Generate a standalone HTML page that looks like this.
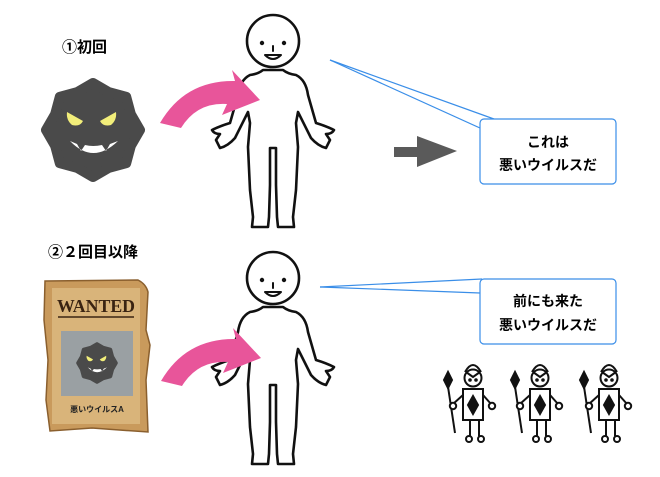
<!DOCTYPE html>
<html><head><meta charset="utf-8"><style>
html,body{margin:0;padding:0;background:#fff;}
svg{display:block}
text{font-family:"Liberation Sans","Noto Sans CJK JP",sans-serif;font-weight:bold}
</style></head><body>
<svg width="660" height="477" viewBox="0 0 660 477" xmlns="http://www.w3.org/2000/svg">
<defs>
<g id="person" fill="#fff" stroke="#111" stroke-width="2.6" stroke-linejoin="round" stroke-linecap="round">
  <path d="M273,70 L263,70 Q258,74 250,75 Q240,80 238,95 L230,123 Q220,126 212,130 Q214,134 220,134 L216,140 L220,148 Q228,146 235,138 L248,112 L250,123 L248,147 L250,190 L253,217 L252,227 L268,227 L269,217 L270,185 L270,148 L276,148 L276,185 L277,217 L278,227 L294,227 L293,217 L296,190 L298,147 L296,123 L298,112 L311,138 Q318,146 326,148 L330,140 L326,134 Q332,134 334,130 Q326,126 316,123 L308,95 Q306,80 296,75 Q288,74 283,70 Z"/>
  <circle cx="273" cy="41" r="26"/>
  <circle cx="262" cy="43" r="2.2" fill="#111" stroke="none"/>
  <circle cx="284" cy="43" r="2.2" fill="#111" stroke="none"/>
  <line x1="273" y1="46" x2="273" y2="51" stroke-width="2"/>
  <path d="M265,55 Q273,63 281,55 Z" stroke-width="2"/>
</g>
<path id="parrow" fill="#e8559a" d="M160,123 Q185,80 235,81 L232,70 L260,100 L222,115 L227,104 Q197,102 181,128 Z"/>
<g id="virus">
  <polygon points="93,83 108.7,92.1 126.2,96.8 130.9,114.3 140,130 130.9,145.7 126.2,163.2 108.7,167.9 93,177 77.3,167.9 59.8,163.2 55.1,145.7 46,130 55.1,114.3 59.8,96.8 77.3,92.1" fill="#4a4a4a" stroke="#4a4a4a" stroke-width="10" stroke-linejoin="round"/>
  <path d="M67,112 L83,121 Q80,127 72,125 Q66,120 67,112 Z" fill="#f2ee7a"/>
  <path d="M116,112 L100,121 Q103,127 111,125 Q117,120 116,112 Z" fill="#f2ee7a"/>
  <path d="M70,141 Q93,165 118,141 L110,144 L106,151 L102,145 Q93,147 85,145 L81,151 L77,144 Z" fill="#fff"/>
</g>
<g id="knight" fill="#fff" stroke="#111" stroke-width="2">
  <path d="M465,372 Q473,358 481,372" />
  <line x1="447" y1="380" x2="455" y2="433"/>
  <polygon points="448,372 452,380 448,388 444,380" fill="#111"/>
  <line x1="463" y1="395" x2="453" y2="404"/>
  <line x1="483" y1="395" x2="491" y2="404"/>
  <circle cx="453" cy="406" r="3.2"/>
  <circle cx="492" cy="406" r="3.2"/>
  <line x1="470" y1="420" x2="470" y2="436"/>
  <line x1="479" y1="420" x2="479" y2="436"/>
  <circle cx="469" cy="439" r="3"/>
  <circle cx="481" cy="439" r="3"/>
  <rect x="463" y="389" width="20" height="31"/>
  <polygon points="473,396 478,405 473,414 468,405" fill="#111"/>
  <circle cx="473" cy="378" r="8.5"/>
  <path d="M466,372 L473,377 L480,372" fill="none"/>
  <circle cx="470" cy="380" r="0.8" fill="#111"/>
  <circle cx="476" cy="380" r="0.8" fill="#111"/>
</g>
</defs>

<text x="62" y="52" font-size="15">①初回</text>
<text x="48" y="257" font-size="15">②２回目以降</text>

<use href="#virus"/>
<use href="#person"/>
<use href="#parrow"/>

<use href="#person" transform="translate(0,237)"/>
<use href="#parrow" transform="translate(1,258)"/>

<path d="M330,60 L494,119" stroke="#3a8ee8" stroke-width="1.2" fill="none"/>
<path d="M330,60 L480,128" stroke="#3a8ee8" stroke-width="1.2" fill="none"/>
<rect x="480" y="119" width="136" height="65" rx="4" fill="#fff" stroke="#3a8ee8" stroke-width="1.2"/>
<text x="548" y="147" font-size="14" text-anchor="middle">これは</text>
<text x="548" y="170" font-size="14" text-anchor="middle">悪いウイルスだ</text>

<polygon points="394,147 417,147 417,136 457,151 417,167 417,157 394,157" fill="#5a5a5a"/>

<path d="M320,287 L482,279" stroke="#3a8ee8" stroke-width="1.2" fill="none"/>
<path d="M320,287 L480,293" stroke="#3a8ee8" stroke-width="1.2" fill="none"/>
<rect x="480" y="279" width="136" height="65" rx="4" fill="#fff" stroke="#3a8ee8" stroke-width="1.2"/>
<text x="548" y="306" font-size="14" text-anchor="middle">前にも来た</text>
<text x="548" y="330" font-size="14" text-anchor="middle">悪いウイルスだ</text>

<path d="M45,281 L138,280 Q146,284 148,292 L146,330 L150,345 L146,380 L148,432 L92,428 L50,431 L46,400 L48,360 L44,320 Z" fill="#c99a5c" stroke="#8a5f2e" stroke-width="1.5"/>
<rect x="52" y="288" width="88" height="136" fill="#d9b47a"/>
<text x="96" y="312" font-size="18" text-anchor="middle" fill="#3a2412" style="font-family:'Liberation Serif',serif;font-weight:bold" textLength="78" lengthAdjust="spacingAndGlyphs">WANTED</text>
<line x1="58" y1="317" x2="134" y2="317" stroke="#3a2412" stroke-width="1.5"/>
<rect x="61" y="331" width="72" height="65" fill="#9aa0a3"/>
<g transform="translate(97,363) scale(0.4) translate(-93,-130)"><use href="#virus"/></g>
<text x="97" y="412" font-size="8" text-anchor="middle" fill="#222">悪いウイルスA</text>

<use href="#knight"/>
<use href="#knight" transform="translate(67,0)"/>
<use href="#knight" transform="translate(136,0)"/>
</svg>
</body></html>
